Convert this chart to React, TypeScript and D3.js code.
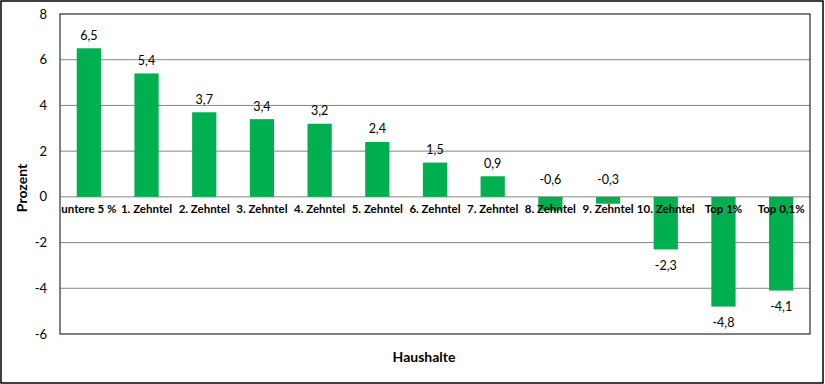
import React from "react";
import * as d3 from "d3";

const categories = ["untere 5 %", "1. Zehntel", "2. Zehntel", "3. Zehntel", "4. Zehntel", "5. Zehntel", "6. Zehntel", "7. Zehntel", "8. Zehntel", "9. Zehntel", "10. Zehntel", "Top 1%", "Top 0,1%"];
const values = [6.5, 5.4, 3.7, 3.4, 3.2, 2.4, 1.5, 0.9, -0.6, -0.3, -2.3, -4.8, -4.1];
const yTicks = [-6, -4, -2, 0, 2, 4, 6, 8];

const W = 825, H = 384;
const left = 60, right = 810, top = 14, bottom = 334;
const font = "Lato, 'Open Sans', sans-serif";

export default function App() {
  const x = d3.scaleBand<string>().domain(categories).range([left, right]).paddingInner(0.58).paddingOuter(0.29);
  const y = d3.scaleLinear().domain([-6, 8]).range([bottom, top]);
  const fmt = (v: number) => v.toFixed(1).replace(".", ",");
  return (
    <svg width={W} height={H} style={{ position: "absolute", left: 0, top: 0 }}>
      <rect x={0} y={0} width={W} height={H} fill="#fff" />
      <rect x={1} y={1} width={W - 3} height={H - 2} fill="none" stroke="#000" strokeWidth={1.5} />
      {yTicks.map((t) => (
        <g key={t}>
          {t !== 8 && t !== -6 && <line x1={left} x2={right} y1={y(t)} y2={y(t)} stroke="#868686" strokeWidth={1} />}
          <text x={47} y={y(t)} dy="0.35em" textAnchor="end" fontFamily={font} fontSize={13} fill="#000">{t}</text>
        </g>
      ))}
      {values.map((v, i) => {
        const c = categories[i];
        const bx = x(c)!;
        const y0 = y(0), y1 = y(v);
        const ly = v >= 0 ? y1 - 13 : Math.abs(v) < 1 ? y0 - 17 : y1 + 16;
        return (
          <g key={c}>
            <rect x={bx} y={Math.min(y0, y1)} width={x.bandwidth()} height={Math.abs(y1 - y0)} fill="#00b050" />
            <text x={bx + x.bandwidth() / 2} y={ly} dy="0.35em" textAnchor="middle" fontFamily={font} fontSize={12.5} fill="#000">{fmt(v)}</text>
          </g>
        );
      })}
      {categories.map((c) => (
        <text key={c} x={x(c)! + x.bandwidth() / 2} y={213} textAnchor="middle" fontFamily={font} fontSize={11.5} fontWeight="bold" fill="#000">{c}</text>
      ))}
      <rect x={left} y={top} width={right - left} height={bottom - top} fill="none" stroke="#000" strokeWidth={1} />
      <line x1={left} x2={left} y1={top + 1} y2={bottom - 1} stroke="#868686" strokeWidth={1} />
      <text transform={`translate(27,${(top + bottom) / 2 + 14}) rotate(-90)`} textAnchor="middle" fontFamily={font} fontSize={14} fontWeight="bold" fill="#000">Prozent</text>
      <text x={424} y={362} textAnchor="middle" fontFamily={font} fontSize={14} fontWeight="bold" fill="#000">Haushalte</text>
    </svg>
  );
}
